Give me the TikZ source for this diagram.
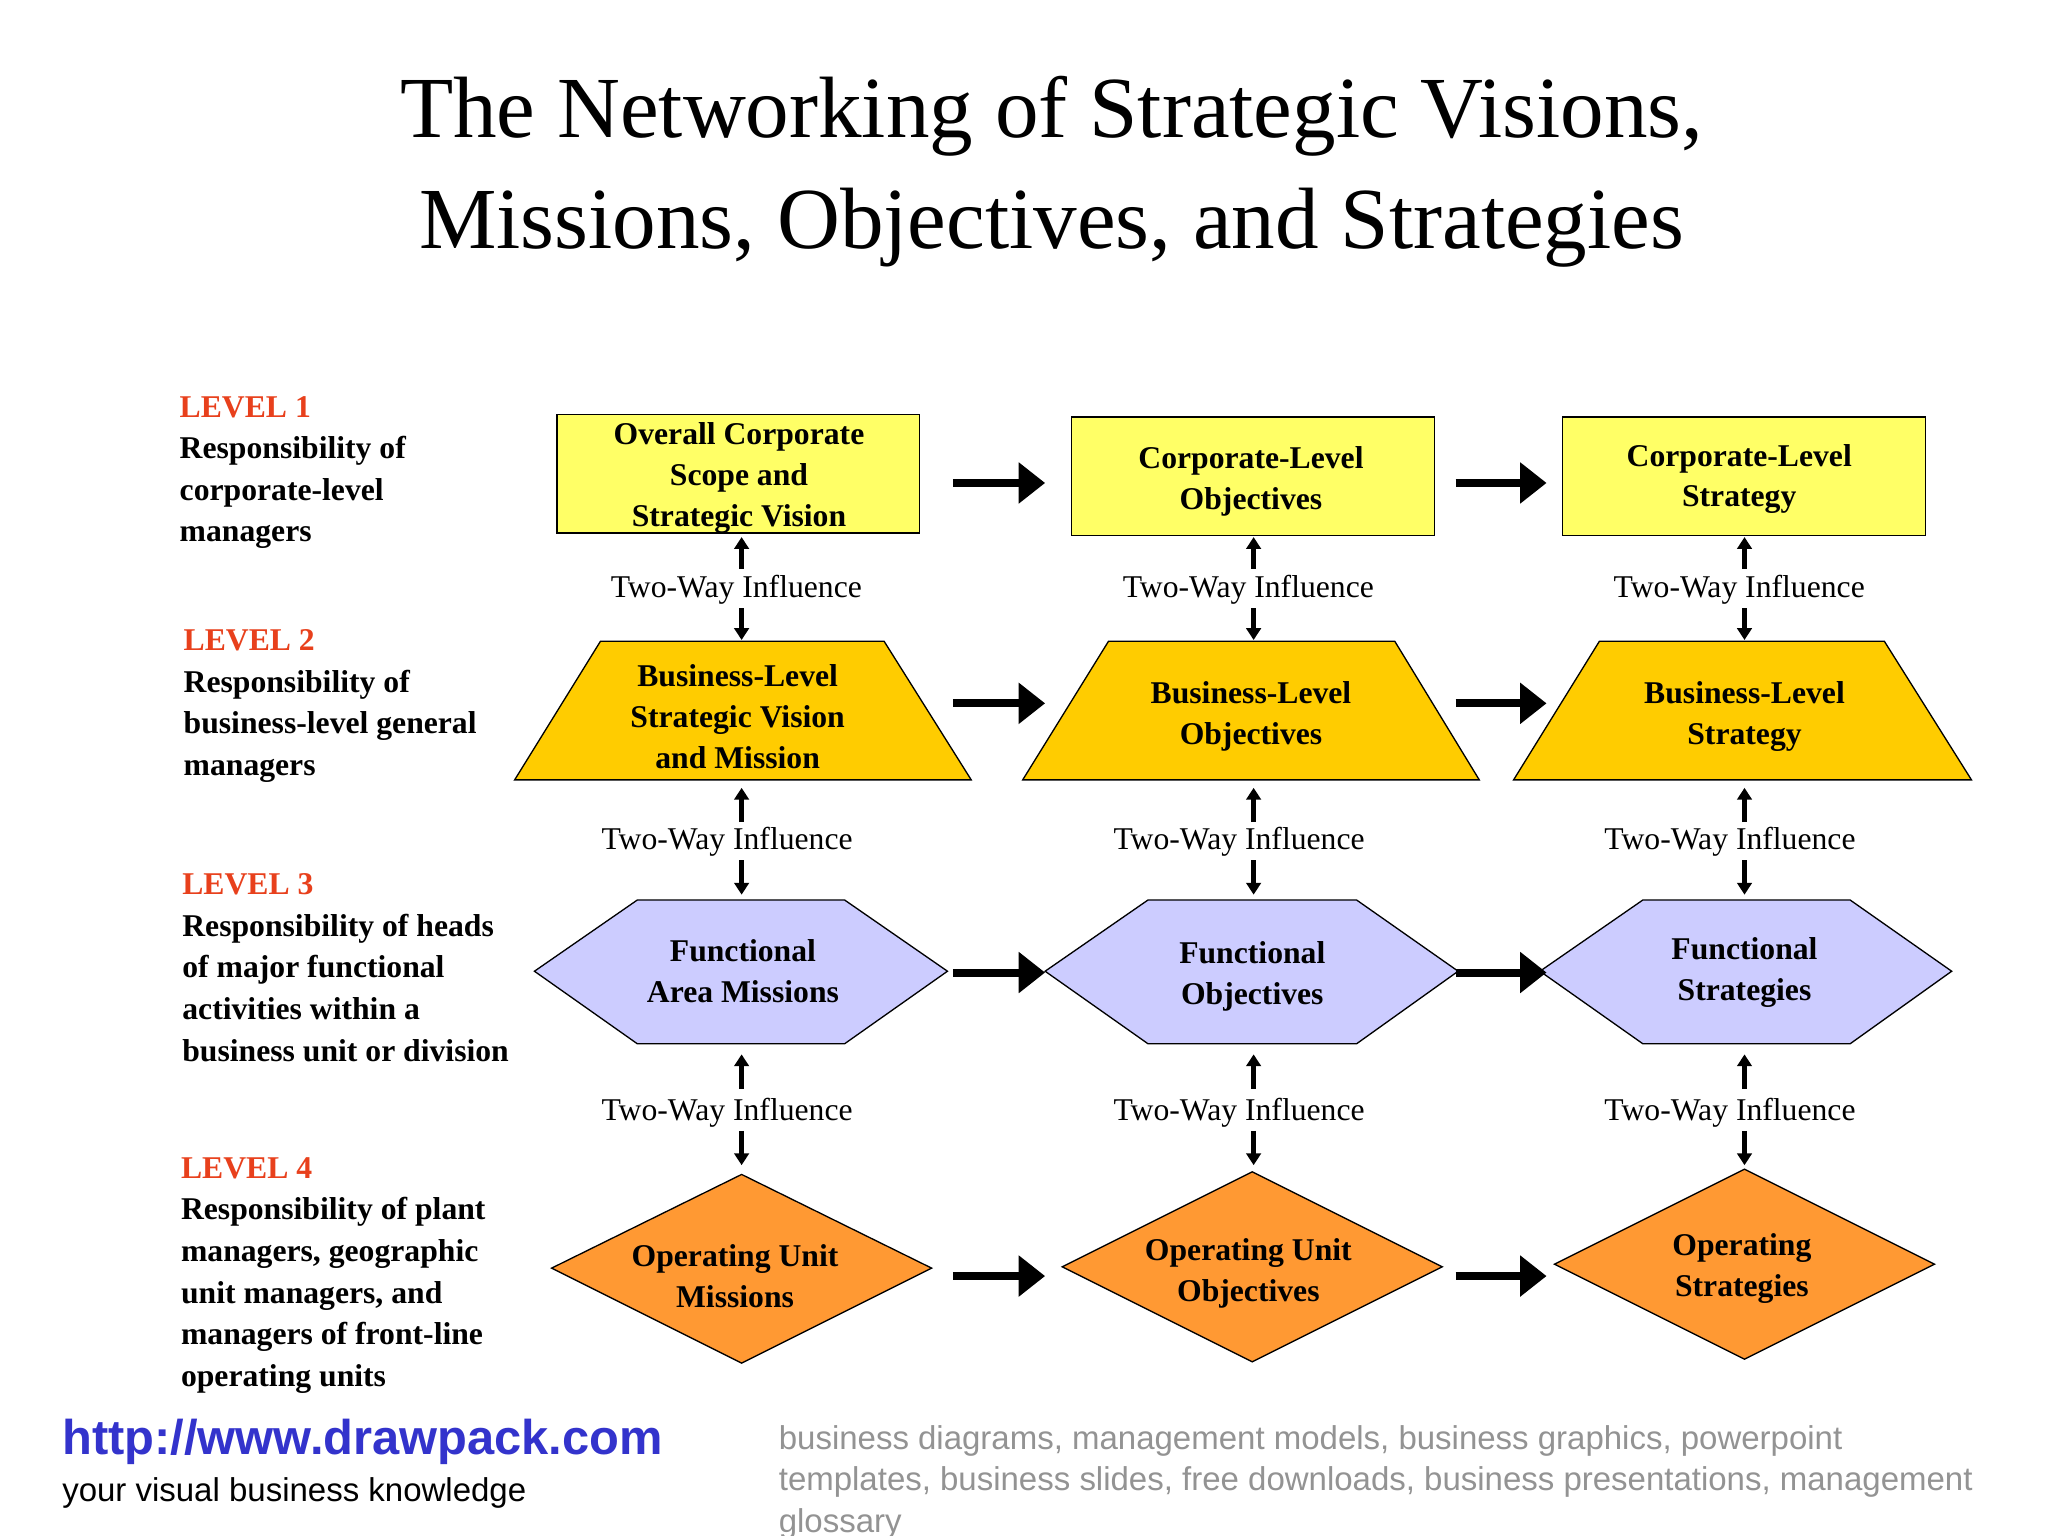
\documentclass[tikz,border=0pt]{standalone}
\usepackage{fontspec}
\setmainfont{Liberation Serif}
\setsansfont{Liberation Sans}
\usetikzlibrary{arrows.meta}
\definecolor{yel}{HTML}{FFFF66}
\definecolor{gold}{HTML}{FFCC00}
\definecolor{lav}{HTML}{CCCCFF}
\definecolor{org}{HTML}{FF9933}
\definecolor{lvl}{HTML}{E8401C}
\definecolor{url}{HTML}{3333CC}
\begin{document}
\begin{tikzpicture}[x=1pt,y=-1pt,
 shp/.style={draw=black,line width=1pt},
 lbl/.style={font=\fontsize{24}{31}\selectfont\bfseries,align=center},
 lvltxt/.style={font=\fontsize{24}{31.5}\selectfont\bfseries,align=left,anchor=north west,inner sep=0},
 twi/.style={font=\fontsize{24}{30}\selectfont,inner sep=1pt},
 harr/.style={line width=6pt,-{Triangle[length=20pt,width=30pt]}},
 varr/.style={line width=3.5pt,-{Triangle[length=9pt,width=11pt]}}]
\useasboundingbox (0,0) rectangle (1552,1164);
\fill[white] (0,0) rectangle (1552,1164);
\node[font=\fontsize{66}{84}\selectfont,align=center] (title) at (797,130) {The Networking of Strategic Visions,\\Missions, Objectives, and Strategies};
% level texts
\node[lvltxt] (l1) at (136,300) {\textcolor{lvl}{LEVEL 1}\\Responsibility of\\corporate-level\\managers};
\node[lvltxt] (l2) at (139,477) {\textcolor{lvl}{LEVEL 2}\\Responsibility of\\business-level general\\managers};
\node[lvltxt] (l3) at (138,662) {\textcolor{lvl}{LEVEL 3}\\Responsibility of heads\\of major functional\\activities within a\\business unit or division};
\node[lvltxt] (l4) at (137,877) {\textcolor{lvl}{LEVEL 4}\\Responsibility of plant\\managers, geographic\\unit managers, and\\managers of front-line\\operating units};
% row1
\draw[shp,fill=yel] (422,314) rectangle (697,404);
\draw[shp,fill=yel] (812,316) rectangle (1087,406);
\draw[shp,fill=yel] (1184,316) rectangle (1459,406);
\node[lbl] (a1) at (560,362) {Overall Corporate\\Scope and\\Strategic Vision};
\node[lbl] (a2) at (948,365) {Corporate-Level\\Objectives};
\node[lbl] (a3) at (1318,363) {Corporate-Level\\Strategy};
% row2
\draw[shp,fill=gold] (455,486)--(670,486)--(736,591)--(390,591)--cycle;
\draw[shp,fill=gold] (840,486)--(1057,486)--(1121,591)--(775,591)--cycle;
\draw[shp,fill=gold] (1212,486)--(1428,486)--(1494,591)--(1147,591)--cycle;
\node[lbl] (b1) at (559,543) {Business-Level\\Strategic Vision\\and Mission};
\node[lbl] (b2) at (948,543) {Business-Level\\Objectives};
\node[lbl] (b3) at (1322,543) {Business-Level\\Strategy};
% row3
\foreach \l/\r/\a/\b in {405/718/483/640,792/1105/870/1028,1167/1479/1245/1402}{
 \draw[shp,fill=lav] (\l,736)--(\a,682)--(\b,682)--(\r,736)--(\b,791)--(\a,791)--cycle;}
\node[lbl] (c1) at (563,736) {Functional\\Area Missions};
\node[lbl] (c2) at (949,740) {Functional\\Objectives};
\node[lbl] (c3) at (1322,737) {Functional\\Strategies};
% row4
\draw[shp,fill=org] (418,961)--(562,890)--(706,961)--(562,1033)--cycle;
\draw[shp,fill=org] (805,960)--(949,888)--(1093,960)--(949,1032)--cycle;
\draw[shp,fill=org] (1178,958)--(1322,886)--(1466,958)--(1322,1030)--cycle;
\node[lbl] (d1) at (557,967) {Operating Unit\\Missions};
\node[lbl] (d2) at (946,965) {Operating Unit\\Objectives};
\node[lbl] (d3) at (1320,961) {Operating\\Strategies};
% horizontal arrows
\foreach \y/\n in {366/1,533/2,737/3,967/4}{
 \coordinate (h\n a) at (722,\y); \coordinate (h\n b) at (792,\y);
 \coordinate (h\n c) at (1103,\y); \coordinate (h\n d) at (1172,\y);
 \draw[harr] (h\n a)--(h\n b); \draw[harr] (h\n c)--(h\n d);}
% two-way influence
\foreach \x/\c in {558/1,946/2,1318/3}{
 \node[twi] (t1\c) at (\x,447) {Two-Way Influence};}
\foreach \x/\c in {551/1,939/2,1311/3}{
 \node[twi] (t2\c) at (\x,638) {Two-Way Influence};
 \node[twi] (t3\c) at (\x,843) {Two-Way Influence};}
\foreach \x/\c in {562/1,950/2,1322/3}{
 \coordinate (u1\c) at (\x,431); \coordinate (v1\c) at (\x,407);
 \coordinate (w1\c) at (\x,461); \coordinate (z1\c) at (\x,485);
 \draw[varr] (u1\c)--(v1\c); \draw[varr] (w1\c)--(z1\c);
 \coordinate (u2\c) at (\x,623); \coordinate (v2\c) at (\x,597);
 \coordinate (w2\c) at (\x,652); \coordinate (z2\c) at (\x,678);
 \draw[varr] (u2\c)--(v2\c); \draw[varr] (w2\c)--(z2\c);
 \coordinate (u3\c) at (\x,825); \coordinate (v3\c) at (\x,799);
 \coordinate (w3\c) at (\x,857); \coordinate (z3\c) at (\x,883);
 \draw[varr] (u3\c)--(v3\c); \draw[varr] (w3\c)--(z3\c);}
% footer
\node[anchor=west,inner sep=0,font=\sffamily\bfseries\fontsize{37}{40}\selectfont,text=url] (web) at (47,1093) {http://www.drawpack.com};
\node[anchor=west,inner sep=0,font=\sffamily\fontsize{25}{28}\selectfont] (tag) at (47,1131) {your visual business knowledge};
\node[anchor=north west,inner sep=0,align=left,font=\sffamily\fontsize{25}{31.5}\selectfont,text=gray!85] (kw) at (590,1080) {business diagrams, management models, business graphics, powerpoint\\templates, business slides, free downloads, business presentations, management\\glossary};
\end{tikzpicture}
\end{document}
